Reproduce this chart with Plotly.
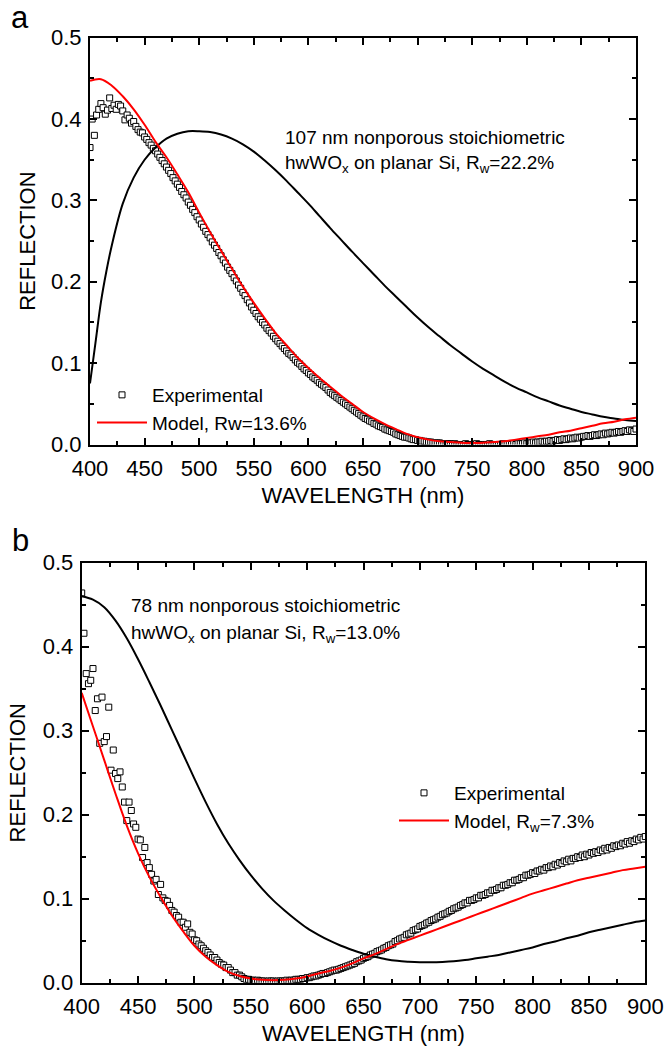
import plotly.graph_objects as go

# ---------------- Panel a data ----------------
wl_exp_a = list(range(400, 901, 2))
r_exp_a = [
    0.365, 0.400, 0.380, 0.405, 0.412, 0.419, 0.414, 0.406, 0.411, 0.426,
    0.413, 0.417, 0.412, 0.418, 0.416, 0.410, 0.399, 0.405, 0.401, 0.395,
    0.397, 0.391, 0.387, 0.384, 0.383, 0.378, 0.375, 0.371, 0.368, 0.364,
    0.361, 0.357, 0.353, 0.349, 0.345, 0.341, 0.337, 0.333, 0.328, 0.324,
    0.320, 0.316, 0.311, 0.307, 0.303, 0.298, 0.294, 0.289, 0.285, 0.280,
    0.276, 0.271, 0.267, 0.262, 0.258, 0.254, 0.249, 0.245, 0.241, 0.236,
    0.232, 0.227, 0.223, 0.218, 0.214, 0.210, 0.205, 0.201, 0.196, 0.192,
    0.187, 0.183, 0.178, 0.174, 0.169, 0.165, 0.161, 0.157, 0.154, 0.150,
    0.147, 0.143, 0.140, 0.137, 0.133, 0.130, 0.127, 0.124, 0.121, 0.118,
    0.115, 0.112, 0.110, 0.107, 0.104, 0.101, 0.099, 0.096, 0.093, 0.091,
    0.088, 0.086, 0.083, 0.081, 0.079, 0.076, 0.074, 0.072, 0.070, 0.067,
    0.064, 0.062, 0.060, 0.058, 0.056, 0.054, 0.052, 0.050, 0.048, 0.046,
    0.044, 0.042, 0.040, 0.038, 0.036, 0.034, 0.032, 0.031, 0.029, 0.028,
    0.026, 0.025, 0.023, 0.022, 0.021, 0.019, 0.018, 0.017, 0.016, 0.015,
    0.013, 0.012, 0.011, 0.010, 0.009, 0.009, 0.008, 0.007, 0.006, 0.006,
    0.005, 0.005, 0.004, 0.004, 0.003, 0.003, 0.003, 0.002, 0.002, 0.002,
    0.002, 0.001, 0.001, 0.001, 0.001, 0.001, 0.000, 0.001, 0.000, 0.000,
    0.000, 0.000, 0.001, 0.000, 0.000, 0.000, 0.000, 0.001, 0.000, 0.000,
    0.000, 0.000, 0.000, 0.001, 0.000, 0.000, 0.000, 0.000, 0.000, 0.001,
    0.000, 0.000, 0.001, 0.000, 0.001, 0.000, 0.001, 0.001, 0.001, 0.002,
    0.001, 0.002, 0.002, 0.003, 0.002, 0.003, 0.003, 0.004, 0.003, 0.004,
    0.004, 0.005, 0.004, 0.005, 0.006, 0.005, 0.006, 0.007, 0.006, 0.007,
    0.008, 0.007, 0.008, 0.009, 0.008, 0.009, 0.010, 0.010, 0.011, 0.010,
    0.011, 0.012, 0.011, 0.012, 0.013, 0.012, 0.014, 0.013, 0.014, 0.015,
    0.014, 0.015, 0.016, 0.015, 0.016, 0.017, 0.016, 0.018, 0.017, 0.016,
    0.019,
]

wl_model_a = list(range(400, 901, 10))
r_model_a = [
    0.447, 0.449, 0.441, 0.428, 0.412, 0.393, 0.372, 0.353, 0.332, 0.310,
    0.285, 0.261, 0.238, 0.216, 0.194, 0.174, 0.155, 0.137, 0.122, 0.107,
    0.094, 0.082, 0.071, 0.060, 0.050, 0.040, 0.032, 0.025, 0.019, 0.013,
    0.009, 0.006, 0.004, 0.003, 0.002, 0.002, 0.002, 0.003, 0.004, 0.006,
    0.008, 0.010, 0.012, 0.015, 0.017, 0.020, 0.023, 0.026, 0.028, 0.031,
    0.033,
]

wl_film_a = [400, 405, 410, 415, 420, 430, 440, 450, 460, 470, 480, 490, 500,
             510, 520, 530, 540, 550, 560, 570, 580, 590, 600, 610, 620, 630,
             640, 650, 660, 670, 680, 690, 700, 710, 720, 730, 740, 750, 760,
             770, 780, 790, 800, 810, 820, 830, 840, 850, 860, 870, 880, 890, 900]
r_film_a = [0.075, 0.125, 0.175, 0.213, 0.245, 0.296, 0.328, 0.350, 0.365,
            0.376, 0.382, 0.385, 0.385, 0.384, 0.381, 0.376, 0.369, 0.360,
            0.349, 0.337, 0.324, 0.310, 0.296, 0.281, 0.266, 0.2515, 0.237,
            0.223, 0.209, 0.195, 0.182, 0.169, 0.156, 0.144, 0.133, 0.122,
            0.112, 0.102, 0.093, 0.085, 0.077, 0.070, 0.064, 0.058, 0.053,
            0.048, 0.044, 0.040, 0.037, 0.034, 0.032, 0.030, 0.029]

# ---------------- Panel b data ----------------
wl_exp_b = list(range(400, 901, 2))
r_exp_b = [
    0.464, 0.416, 0.368, 0.356, 0.360, 0.374, 0.324, 0.338, 0.285, 0.340,
    0.287, 0.293, 0.328, 0.253, 0.277, 0.249, 0.243, 0.251, 0.233, 0.215,
    0.193, 0.215, 0.205, 0.189, 0.185, 0.171, 0.170, 0.149, 0.161, 0.143,
    0.137, 0.129, 0.121, 0.123, 0.105, 0.117, 0.101, 0.098, 0.097, 0.092,
    0.086, 0.084, 0.080, 0.078, 0.072, 0.072, 0.066, 0.070, 0.060, 0.058,
    0.051, 0.050, 0.046, 0.044, 0.041, 0.038, 0.036, 0.033, 0.030, 0.030,
    0.027, 0.024, 0.022, 0.021, 0.018, 0.018, 0.015, 0.012, 0.012, 0.009,
    0.009, 0.007, 0.005, 0.004, 0.004, 0.003, 0.003, 0.002, 0.003, 0.002,
    0.002, 0.002, 0.001, 0.002, 0.002, 0.002, 0.001, 0.002, 0.002, 0.002,
    0.002, 0.003, 0.002, 0.003, 0.003, 0.004, 0.004, 0.004, 0.005, 0.005,
    0.006, 0.006, 0.007, 0.008, 0.008, 0.009, 0.010, 0.011, 0.011, 0.012,
    0.013, 0.014, 0.015, 0.015, 0.016, 0.017, 0.018, 0.019, 0.020, 0.021,
    0.022, 0.023, 0.025, 0.026, 0.027, 0.029, 0.030, 0.031, 0.033, 0.034,
    0.035, 0.037, 0.038, 0.039, 0.041, 0.042, 0.044, 0.045, 0.046, 0.049,
    0.050, 0.052, 0.053, 0.054, 0.057, 0.058, 0.059, 0.062, 0.063, 0.064,
    0.067, 0.068, 0.069, 0.071, 0.072, 0.074, 0.075, 0.076, 0.078, 0.079,
    0.081, 0.082, 0.083, 0.085, 0.086, 0.088, 0.089, 0.090, 0.092, 0.093,
    0.095, 0.095, 0.098, 0.098, 0.099, 0.101, 0.101, 0.104, 0.104, 0.105,
    0.107, 0.107, 0.110, 0.110, 0.111, 0.113, 0.113, 0.116, 0.116, 0.117,
    0.119, 0.119, 0.122, 0.122, 0.123, 0.125, 0.125, 0.128, 0.128, 0.129,
    0.131, 0.130, 0.133, 0.133, 0.135, 0.134, 0.137, 0.137, 0.139, 0.138,
    0.141, 0.140, 0.143, 0.142, 0.145, 0.144, 0.147, 0.145, 0.148, 0.148,
    0.150, 0.149, 0.152, 0.150, 0.153, 0.152, 0.155, 0.154, 0.156, 0.155,
    0.158, 0.157, 0.160, 0.158, 0.161, 0.160, 0.163, 0.162, 0.164, 0.163,
    0.166, 0.165, 0.168, 0.166, 0.169, 0.168, 0.171, 0.170, 0.173, 0.171,
    0.174,
]

wl_model_b = list(range(400, 901, 10))
r_model_b = [
    0.345, 0.305, 0.265, 0.225, 0.187, 0.154, 0.126, 0.102, 0.080, 0.061,
    0.044, 0.031, 0.021, 0.013, 0.008, 0.005, 0.0035, 0.003, 0.0035, 0.005,
    0.0075, 0.011, 0.014, 0.018, 0.023, 0.029, 0.034, 0.040, 0.046, 0.051,
    0.056, 0.061, 0.066, 0.071, 0.076, 0.081, 0.086, 0.091, 0.096, 0.101,
    0.106, 0.110, 0.114, 0.118, 0.122, 0.125, 0.128, 0.131, 0.134, 0.136,
    0.138,
]

wl_film_b = list(range(400, 901, 10))
r_film_b = [
    0.460, 0.456, 0.447, 0.431, 0.410, 0.385, 0.358, 0.330, 0.301, 0.272,
    0.243, 0.215, 0.189, 0.166, 0.146, 0.128, 0.112, 0.098, 0.086, 0.075,
    0.065, 0.057, 0.050, 0.044, 0.039, 0.0345, 0.031, 0.028, 0.026, 0.025,
    0.0244, 0.0243, 0.0247, 0.0255, 0.027, 0.029, 0.031, 0.033, 0.036, 0.039,
    0.042, 0.046, 0.049, 0.053, 0.056, 0.060, 0.063, 0.066, 0.069, 0.072,
    0.074,
]

x_ticks = [400, 450, 500, 550, 600, 650, 700, 750, 800, 850, 900]
y_ticks = [0.0, 0.1, 0.2, 0.3, 0.4, 0.5]

FONT = "Liberation Sans, Arial, sans-serif"
W, H = 666, 1047

fig = go.Figure()

exp_marker = dict(symbol="square", size=6, color="white",
                  line=dict(color="black", width=1))

# panel a
fig.add_trace(go.Scatter(x=wl_exp_a, y=r_exp_a, mode="markers", name="Experimental",
                         marker=exp_marker, xaxis="x", yaxis="y", legend="legend"))
fig.add_trace(go.Scatter(x=wl_film_a, y=r_film_a, mode="lines", showlegend=False,
                         line=dict(color="black", width=2, shape="spline"),
                         xaxis="x", yaxis="y"))
fig.add_trace(go.Scatter(x=wl_model_a, y=r_model_a, mode="lines", name="Model, Rw=13.6%",
                         line=dict(color="#ff0000", width=2, shape="spline"),
                         xaxis="x", yaxis="y", legend="legend"))
# panel b
fig.add_trace(go.Scatter(x=wl_exp_b, y=r_exp_b, mode="markers", name="Experimental",
                         marker=exp_marker, xaxis="x2", yaxis="y2", legend="legend2"))
fig.add_trace(go.Scatter(x=wl_film_b, y=r_film_b, mode="lines", showlegend=False,
                         line=dict(color="black", width=2, shape="spline"),
                         xaxis="x2", yaxis="y2"))
fig.add_trace(go.Scatter(x=wl_model_b, y=r_model_b, mode="lines",
                         name="Model, R<sub>w</sub>=7.3%",
                         line=dict(color="#ff0000", width=2, shape="spline"),
                         xaxis="x2", yaxis="y2", legend="legend2"))


def xaxis(domain, anchor):
    return dict(domain=domain, anchor=anchor, range=[400, 900], tickvals=x_ticks,
                ticks="inside", ticklen=7, tickwidth=1.5, tickcolor="black",
                minor=dict(dtick=25, tick0=400, ticks="inside", ticklen=4,
                           tickwidth=1.5, tickcolor="black"),
                showline=True, linecolor="black", linewidth=2, mirror="allticks",
                showgrid=False, zeroline=False, automargin=False,
                tickfont=dict(family=FONT, size=22, color="black"),
                ticklabelstandoff=3,
                title=dict(text="WAVELENGTH (nm)", standoff=8,
                           font=dict(family=FONT, size=22, color="black")))


def yaxis(domain, anchor, standoff):
    return dict(domain=domain, anchor=anchor, range=[0, 0.5], tickvals=y_ticks,
                tickformat=".1f",
                ticks="inside", ticklen=7, tickwidth=1.5, tickcolor="black",
                minor=dict(dtick=0.05, tick0=0, ticks="inside", ticklen=4,
                           tickwidth=1.5, tickcolor="black"),
                showline=True, linecolor="black", linewidth=2, mirror="allticks",
                showgrid=False, zeroline=False, automargin=False,
                tickfont=dict(family=FONT, size=22, color="black"),
                ticklabelstandoff=2,
                title=dict(text="REFLECTION", standoff=standoff,
                           font=dict(family=FONT, size=22, color="black")))


ax_a_x = [90 / W, 636 / W]
ax_a_y = [1 - 444.5 / H, 1 - 37.7 / H]
ax_b_x = [81.7 / W, 645.3 / W]
ax_b_y = [1 - 982.7 / H, 1 - 562.7 / H]

legend_font = dict(family=FONT, size=19, color="black")

fig.update_layout(
    width=W, height=H,
    margin=dict(l=0, r=0, t=0, b=0, autoexpand=False),
    paper_bgcolor="white", plot_bgcolor="white",
    font=dict(family=FONT, color="black"),
    xaxis=xaxis(ax_a_x, "y"), yaxis=yaxis(ax_a_y, "x", 9),
    xaxis2=xaxis(ax_b_x, "y2"), yaxis2=yaxis(ax_b_y, "x2", 11),
    legend=dict(x=92 / W, y=1 - 376 / H, xanchor="left", yanchor="top",
                bgcolor="rgba(0,0,0,0)", font=legend_font, itemwidth=50,
                tracegroupgap=0),
    legend2=dict(x=394 / W, y=1 - 774 / H, xanchor="left", yanchor="top",
                 bgcolor="rgba(0,0,0,0)", font=legend_font, itemwidth=50,
                 tracegroupgap=0),
    showlegend=True,
)

ann_font = dict(family=FONT, size=19, color="black")
annotations = [
    dict(text="a", x=20 / W, y=1 - 18 / H, font=dict(family=FONT, size=31, color="black")),
    dict(text="b", x=21 / W, y=1 - 540 / H, font=dict(family=FONT, size=31, color="black")),
    dict(text="107 nm nonporous stoichiometric", x=283 / W, y=1 - 137 / H,
         xanchor="left", font=ann_font),
    dict(text="hwWO<sub>x</sub> on planar Si, R<sub>w</sub>=22.2%", x=283 / W, y=1 - 163 / H,
         xanchor="left", yanchor="top", yshift=13, font=ann_font),
    dict(text="78 nm nonporous stoichiometric", x=129 / W, y=1 - 605 / H,
         xanchor="left", font=ann_font),
    dict(text="hwWO<sub>x</sub> on planar Si, R<sub>w</sub>=13.0%", x=129 / W, y=1 - 633 / H,
         xanchor="left", yanchor="top", yshift=13, font=ann_font),
]
for a in annotations:
    a.setdefault("xanchor", "center")
    a.setdefault("yanchor", "middle")
    a.update(xref="paper", yref="paper", showarrow=False)
fig.update_layout(annotations=annotations)

fig.write_html("out.html", config={"displayModeBar": False},
               post_script="document.body.style.margin='0px';document.body.style.padding='0px';")
